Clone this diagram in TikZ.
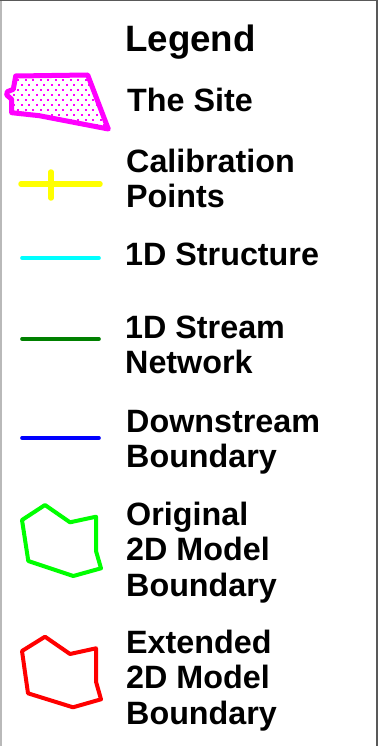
\documentclass[tikz,border=0pt]{standalone}
\usepackage{fontspec}
\setmainfont{Liberation Sans}
\definecolor{sitemag}{RGB}{255,0,255}
\definecolor{calyel}{RGB}{255,255,0}
\definecolor{strcyan}{RGB}{0,255,255}
\definecolor{netgreen}{RGB}{0,128,0}
\definecolor{dsblue}{RGB}{0,0,255}
\definecolor{origgreen}{RGB}{0,255,0}
\definecolor{extred}{RGB}{255,0,0}
\newcommand{\lbltext}[1]{\vtop{\baselineskip=35.5pt #1}}
\tikzset{
  lbl/.style={anchor=base west, inner sep=0pt, font=\fontsize{32.3}{35.5}\selectfont\bfseries},
  title/.style={anchor=base west, inner sep=0pt, font=\fontsize{36.7}{40}\selectfont\bfseries},
  keyline/.style={line width=3.6pt, line cap=round},
  bnd/.style={line width=4pt, line join=round},
}
\begin{document}
\begin{tikzpicture}[x=1pt,y=-1pt]
\useasboundingbox (0,0) rectangle (378,746);
% frame
\draw[gray!55, line width=1.5pt] (0.75,0) -- (0.75,746);
\draw[black!65, line width=1.5pt] (0,0.75) -- (378,0.75);
\draw[black!65, line width=2.5pt] (376.75,0) -- (376.75,746);

% title
\node[title] (title) at (125,52) {Legend};

% the site: dotted fill inside a thick outline
\path[save path=\sitepath] (15.7,76) -- (87.7,75) -- (108.3,129) -- (39.3,115.7)
  -- (11.7,112.7) -- (11.7,99.3) -- (6.7,95) -- (7.3,91.7) -- (13.3,89.3) -- cycle;
\begin{scope}
  \clip[use path=\sitepath];
  \foreach \r in {0,...,12} {
    \pgfmathsetmacro{\yy}{70+5*\r}
    \pgfmathsetmacro{\xo}{mod(\r,2)*3.75}
    \foreach \c in {0,...,15} {
      \fill[sitemag] ({\xo+3+7.5*\c-1},{\yy-1}) rectangle ++(2,2);
    }
  }
\end{scope}
\draw[sitemag, line width=5pt, line join=round, use path=\sitepath];
\node[lbl] (site) at (127,112) {The Site};

% calibration points
\coordinate (c1) at (21,184);
\coordinate (c2) at (100,184);
\coordinate (c3) at (51,172);
\coordinate (c4) at (51,198);
\draw[calyel, line width=5.5pt, line cap=round] (c1) -- (c2);
\draw[calyel, line width=5.5pt, line cap=round] (c3) -- (c4);
\node[lbl] (cal) at (126,172) {\lbltext{\hbox{Calibration}\hbox{Points}}};

% 1D structure
\coordinate (a1) at (22,258);
\coordinate (a2) at (99,258);
\draw[keyline, strcyan] (a1) -- (a2);
\node[lbl] (str) at (125,265) {1D Structure};

% 1D stream network
\coordinate (b1) at (22,339);
\coordinate (b2) at (99,339);
\draw[keyline, netgreen] (b1) -- (b2);
\node[lbl] (net) at (125,338) {\lbltext{\hbox{1D Stream}\hbox{Network}}};

% downstream boundary
\coordinate (d1) at (22,438);
\coordinate (d2) at (99,438);
\draw[keyline, dsblue] (d1) -- (d2);
\node[lbl] (ds) at (126,432) {\lbltext{\hbox{Downstream}\hbox{Boundary}}};

% original 2D model boundary
\draw[bnd, origgreen] (22,520) -- (45,505) -- (70,522.3) -- (96,516.7) -- (96,551)
  -- (101,568.3) -- (73.3,576) -- (28.3,561) -- cycle;
\node[lbl] (orig) at (126,525) {\lbltext{\hbox{Original}\hbox{2D Model}\hbox{Boundary}}};

% extended 2D model boundary
\draw[bnd, extred] (22,651) -- (45,636.7) -- (70,654) -- (96,648.3) -- (96,681.7)
  -- (101,699.3) -- (73,707.3) -- (28,693.3) -- cycle;
\node[lbl] (ext) at (126,653) {\lbltext{\hbox{Extended}\hbox{2D Model}\hbox{Boundary}}};
\end{tikzpicture}
\end{document}
